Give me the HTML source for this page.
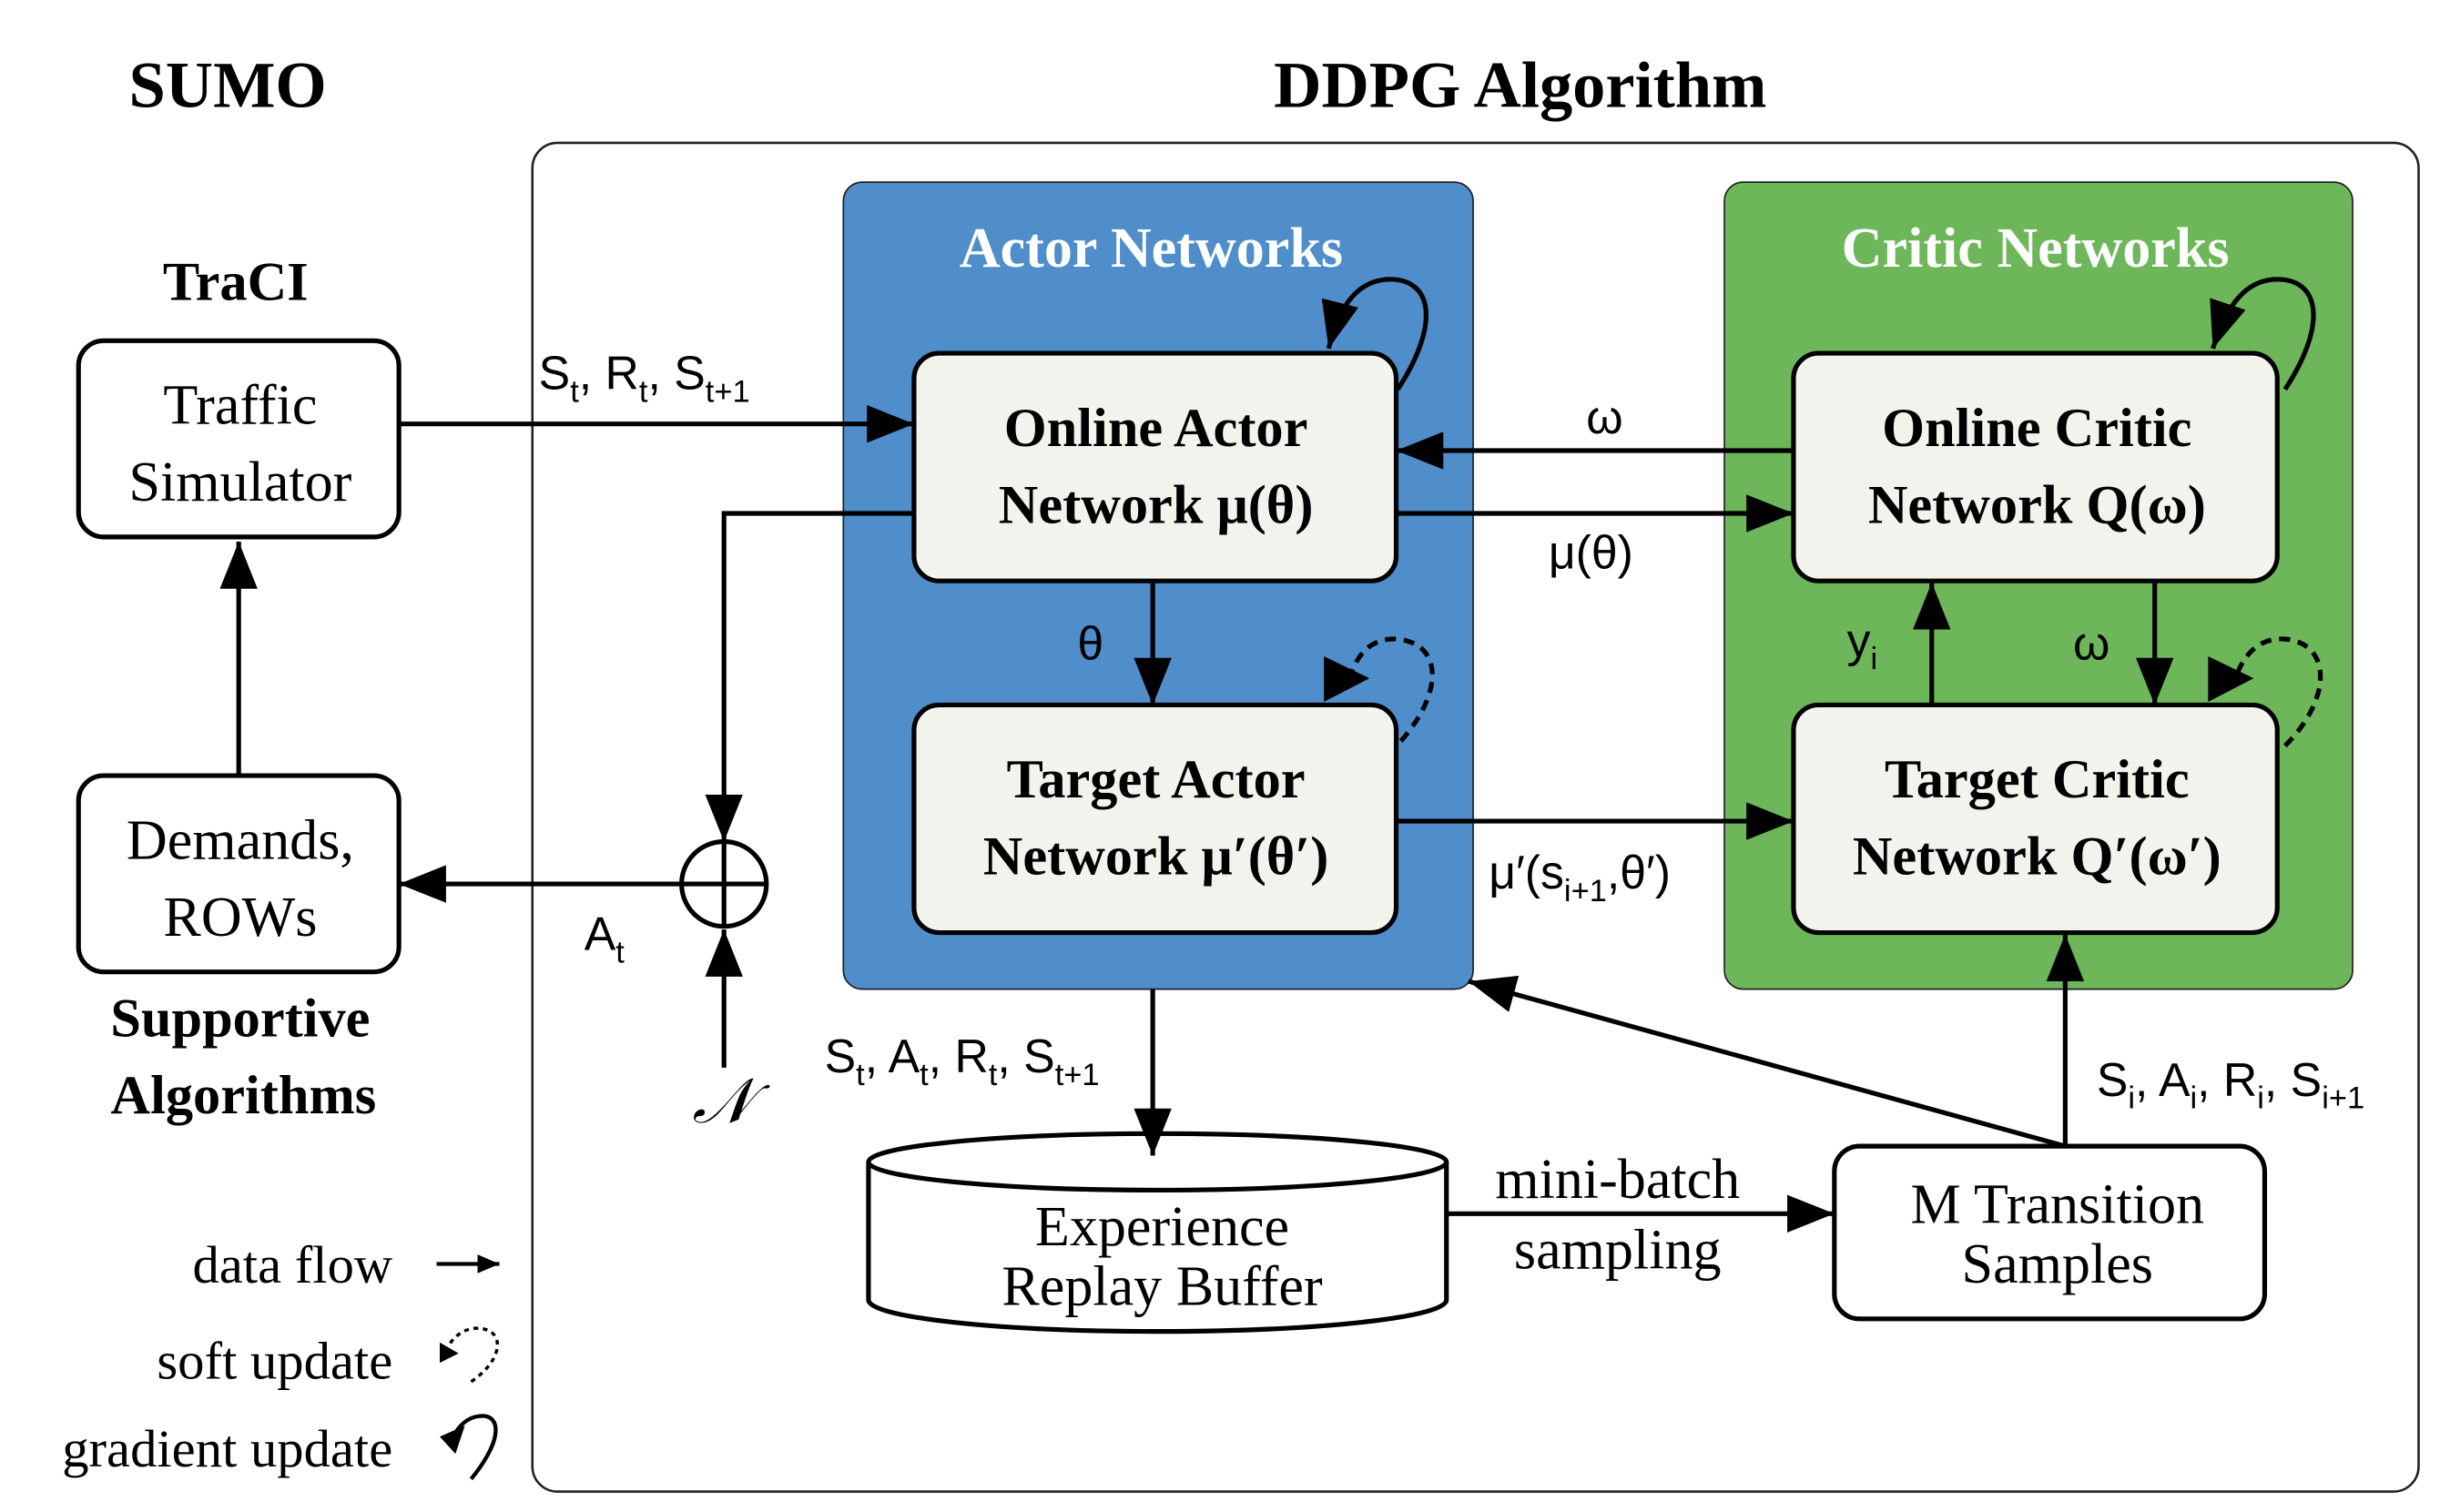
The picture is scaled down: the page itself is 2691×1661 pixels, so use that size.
<!DOCTYPE html>
<html><head><meta charset="utf-8"><style>
html,body{margin:0;padding:0;background:#fff}
svg{display:block}
.s{font-family:"Liberation Serif",serif}
.a{font-family:"Liberation Sans",sans-serif}
</style></head><body>
<svg width="2691" height="1661" viewBox="0 0 1560 963" preserveAspectRatio="none" xmlns="http://www.w3.org/2000/svg">
<defs>
<marker id="ah" markerUnits="userSpaceOnUse" viewBox="0 0 30 24" refX="30" refY="12" markerWidth="30" markerHeight="24" orient="auto"><path d="M0,0 L30,12 L0,24 Z" fill="#000"/></marker>
<marker id="sh" markerUnits="userSpaceOnUse" viewBox="0 0 14 12" refX="14" refY="6" markerWidth="14" markerHeight="12" orient="auto"><path d="M0,0 L14,6 L0,12 Z" fill="#000"/></marker>
</defs>
<rect width="1560" height="963" fill="#fff"/>
<text class="s" x="145" y="68" font-size="42" font-weight="bold" text-anchor="middle">SUMO</text>
<text class="s" x="968" y="68" font-size="42" font-weight="bold" text-anchor="middle">DDPG Algorithm</text>
<rect x="339" y="91" width="1201" height="859" rx="16" fill="none" stroke="#222" stroke-width="1.5"/>
<rect x="537" y="116" width="401" height="514" rx="12" fill="#4f8dcb" stroke="#222" stroke-width="1"/>
<rect x="1098" y="116" width="400" height="514" rx="12" fill="#6db65a" stroke="#222" stroke-width="1"/>
<text class="s" x="733" y="170" font-size="36" font-weight="bold" fill="#fff" text-anchor="middle">Actor Networks</text>
<text class="s" x="1296" y="170" font-size="36" font-weight="bold" fill="#fff" text-anchor="middle">Critic Networks</text>

<g fill="#f3f3ed" stroke="#000" stroke-width="3">
<rect x="582" y="225" width="307" height="145" rx="16"/>
<rect x="582" y="449" width="307" height="145" rx="16"/>
<rect x="1142" y="225" width="308" height="145" rx="16"/>
<rect x="1142" y="449" width="308" height="145" rx="16"/>
</g>
<g fill="#fff" stroke="#000" stroke-width="3">
<rect x="50" y="217" width="204" height="125" rx="16"/>
<rect x="50" y="494" width="204" height="125" rx="16"/>
<rect x="1168" y="730" width="274" height="110" rx="16"/>
</g>
<!-- cylinder -->
<g stroke="#000" stroke-width="3">
<path d="M553,740 L553,828 A184,20 0 0 0 921,828 L921,740" fill="#fff"/>
<ellipse cx="737" cy="740" rx="184" ry="18" fill="#fff"/>
</g>
<g class="s" font-size="35" font-weight="bold" text-anchor="middle">
<text x="736" y="284">Online Actor</text><text x="736" y="333">Network μ(θ)</text>
<text x="736" y="508">Target Actor</text><text x="736" y="557">Network μ′(θ′)</text>
<text x="1297" y="284">Online Critic</text><text x="1297" y="333">Network Q(ω)</text>
<text x="1297" y="508">Target Critic</text><text x="1297" y="557">Network Q′(ω′)</text>
<text x="150" y="191">TraCI</text>
<text x="153" y="660">Supportive</text><text x="155" y="709">Algorithms</text>
</g>
<g class="s" font-size="36" text-anchor="middle">
<text x="153" y="270">Traffic</text><text x="153" y="319">Simulator</text>
<text x="153" y="547">Demands,</text><text x="153" y="596">ROWs</text>
<text x="740" y="793">Experience</text><text x="740" y="831">Replay Buffer</text>
<text x="1310" y="779">M Transition</text><text x="1310" y="817">Samples</text>
<text x="1030" y="763">mini-batch</text><text x="1030" y="808">sampling</text>
</g>
<g class="s" font-size="34" text-anchor="end">
<text x="250" y="817">data flow</text><text x="250" y="878">soft update</text><text x="250" y="934">gradient update</text>
</g>

<g stroke="#000" stroke-width="3" fill="none">
<line x1="254" y1="270" x2="582" y2="270" marker-end="url(#ah)"/>
<polyline points="582,327 461,327 461,536" marker-end="url(#ah)"/>
<circle cx="461" cy="563" r="27"/>
<line x1="434" y1="563" x2="488" y2="563"/><line x1="461" y1="536" x2="461" y2="590"/>
<line x1="434" y1="563" x2="254" y2="563" marker-end="url(#ah)"/>
<line x1="461" y1="680" x2="461" y2="592" marker-end="url(#ah)"/>
<line x1="152" y1="494" x2="152" y2="345" marker-end="url(#ah)"/>
<line x1="1142" y1="287" x2="889" y2="287" marker-end="url(#ah)"/>
<line x1="889" y1="327" x2="1142" y2="327" marker-end="url(#ah)"/>
<line x1="734" y1="370" x2="734" y2="449" marker-end="url(#ah)"/>
<line x1="1230" y1="449" x2="1230" y2="371" marker-end="url(#ah)"/>
<line x1="1372" y1="370" x2="1372" y2="449" marker-end="url(#ah)"/>
<line x1="889" y1="523" x2="1142" y2="523" marker-end="url(#ah)"/>
<line x1="734" y1="630" x2="734" y2="736" marker-end="url(#ah)"/>
<line x1="921" y1="773" x2="1168" y2="773" marker-end="url(#ah)"/>
<line x1="1315" y1="730" x2="1315" y2="595" marker-end="url(#ah)"/>
<line x1="1315" y1="730" x2="935" y2="625" marker-end="url(#ah)"/>
<path d="M890,248 C918,205 912,176 882,178 C862,180 852,198 846,222" marker-end="url(#ah)"/>
<path d="M1455,248 C1483,205 1477,176 1447,178 C1427,180 1417,198 1409,222" marker-end="url(#ah)"/>
<g stroke-dasharray="7,5">
<path d="M892,472 C920,440 918,410 890,407 C872,406 864,418 860,430"/>
<path d="M1455,475 C1485,445 1485,410 1455,407 C1437,406 1429,418 1424,430"/>
<path d="M300,880 C322,865 322,845 302,846 C293,847 288,853 285,858" stroke-width="2" stroke-dasharray="3,3"/>
</g>
<path d="M300,942 C322,915 318,900 305,902 C296,903 291,910 288,916" stroke-width="2.5"/>
<line x1="278" y1="805" x2="318" y2="805" stroke-width="2.5" marker-end="url(#sh)"/>
</g>
<g fill="#000">
<path d="M843,418 L872,432 L843,447 Z"/>
<path d="M1406,418 L1435,432 L1406,447 Z"/>
<path d="M280,855 L292,862 L280,868 Z"/>
<path d="M280,915 L296,908 L290,926 Z"/>
</g>

<g class="a" font-size="30">
<text x="343" y="248">S<tspan font-size="20" dy="8">t</tspan><tspan dy="-8">, R</tspan><tspan font-size="20" dy="8">t</tspan><tspan dy="-8">, S</tspan><tspan font-size="20" dy="8">t+1</tspan></text>
<text x="372" y="605">A<tspan font-size="20" dy="8">t</tspan></text>
<text x="1010" y="276">ω</text>
<text x="986" y="362">μ(θ)</text>
<text x="686" y="420">θ</text>
<text x="1176" y="418">y<tspan font-size="20" dy="8">i</tspan></text>
<text x="1320" y="420">ω</text>
<text x="948" y="566">μ′(s<tspan font-size="20" dy="8">i+1</tspan><tspan dy="-8">,θ′)</tspan></text>
<text x="525" y="683">S<tspan font-size="20" dy="8">t</tspan><tspan dy="-8">, A</tspan><tspan font-size="20" dy="8">t</tspan><tspan dy="-8">, R</tspan><tspan font-size="20" dy="8">t</tspan><tspan dy="-8">, S</tspan><tspan font-size="20" dy="8">t+1</tspan></text>
<text x="1335" y="698">S<tspan font-size="20" dy="8">i</tspan><tspan dy="-8">, A</tspan><tspan font-size="20" dy="8">i</tspan><tspan dy="-8">, R</tspan><tspan font-size="20" dy="8">i</tspan><tspan dy="-8">, S</tspan><tspan font-size="20" dy="8">i+1</tspan></text>
</g>
<text class="s" x="460" y="715" font-size="40" font-style="italic" text-anchor="middle">𝒩</text>
</svg>
</body></html>
